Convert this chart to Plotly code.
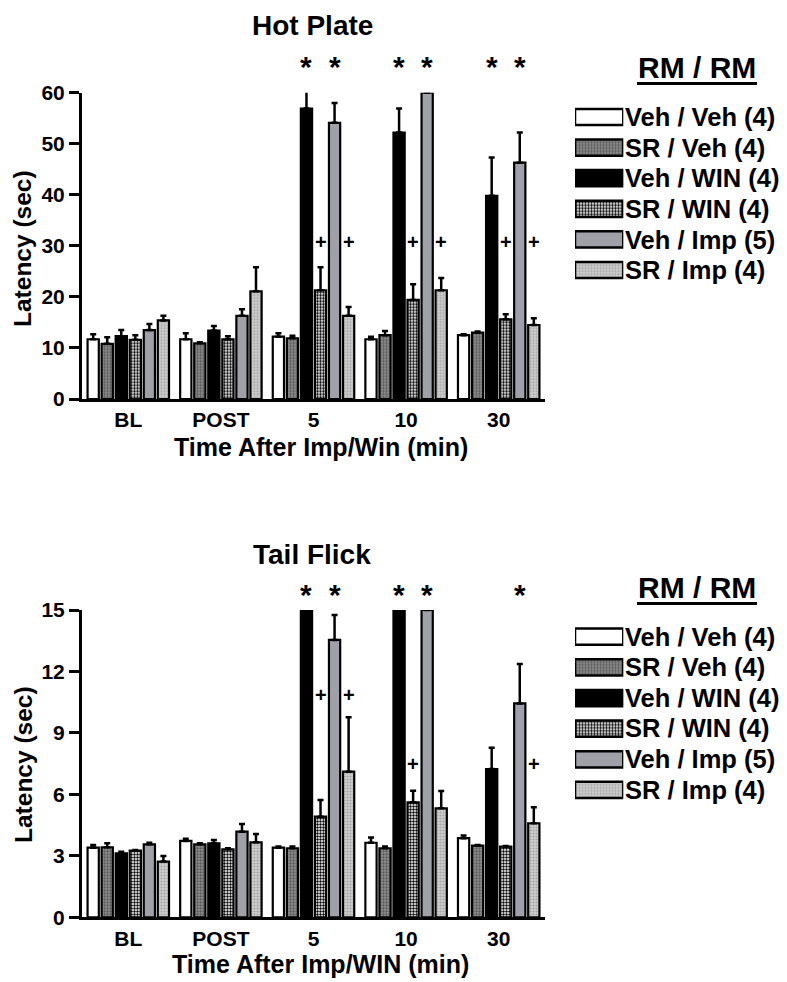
import plotly.graph_objects as go

# ---------------- data ----------------
groups = ['BL', 'POST', '5', '10', '30']
series = ['Veh / Veh (4)', 'SR / Veh (4)', 'Veh / WIN (4)', 'SR / WIN (4)', 'Veh / Imp (5)', 'SR / Imp (4)']

# Hot plate (sec)
hp_veh_veh = [11.7, 11.7, 12.2, 11.7, 12.5]
hp_sr_veh = [10.8, 10.9, 11.9, 12.5, 13.0]
hp_veh_win = [12.3, 13.4, 56.9, 52.2, 39.8]
hp_sr_win = [11.6, 11.7, 21.3, 19.4, 15.6]
hp_veh_imp = [13.5, 16.3, 54.1, 60.0, 46.3]
hp_sr_imp = [15.4, 21.1, 16.3, 21.3, 14.5]
hp_err_veh_veh = [1.0, 1.2, 0.7, 0.5, 0.2]
hp_err_sr_veh = [1.3, 0.2, 0.5, 0.8, 0.2]
hp_err_veh_win = [1.2, 0.9, 3.5, 4.7, 7.5]
hp_err_sr_win = [0.9, 0.6, 4.5, 3.1, 1.0]
hp_err_veh_imp = [1.2, 1.3, 3.9, 0.0, 5.9]
hp_err_sr_imp = [0.9, 4.7, 1.7, 2.4, 1.3]

# Tail flick (sec)
tf_veh_veh = [3.40, 3.73, 3.40, 3.64, 3.86]
tf_sr_veh = [3.42, 3.56, 3.37, 3.37, 3.50]
tf_veh_win = [3.12, 3.61, 15.0, 15.0, 7.24]
tf_sr_win = [3.25, 3.32, 4.91, 5.61, 3.45]
tf_veh_imp = [3.56, 4.18, 13.54, 15.0, 10.44]
tf_sr_imp = [2.72, 3.66, 7.11, 5.32, 4.59]
tf_err_veh_veh = [0.13, 0.11, 0.05, 0.25, 0.13]
tf_err_sr_veh = [0.19, 0.05, 0.08, 0.08, 0.03]
tf_err_veh_win = [0.08, 0.16, 0.0, 0.0, 1.04]
tf_err_sr_win = [0.04, 0.05, 0.82, 0.57, 0.03]
tf_err_veh_imp = [0.08, 0.38, 1.22, 0.0, 1.92]
tf_err_sr_imp = [0.27, 0.41, 2.65, 0.85, 0.78]

# significance marks: (group index, series index, y value)
hp_stars = [(2, 2, 65.6), (2, 4, 65.6), (3, 2, 65.6), (3, 4, 65.6), (4, 2, 65.6), (4, 4, 65.6)]
hp_plus = [(2, 3, 30.7), (2, 5, 30.7), (3, 3, 30.7), (3, 5, 30.7), (4, 3, 30.7), (4, 5, 30.7)]
tf_stars = [(2, 2, 15.9), (2, 4, 15.9), (3, 2, 15.9), (3, 4, 15.9), (4, 4, 15.9)]
tf_plus = [(2, 3, 10.87), (2, 5, 10.87), (3, 3, 7.48), (4, 5, 7.48)]

hp_ticks = [0, 10, 20, 30, 40, 50, 60]
tf_ticks = [0, 3, 6, 9, 12, 15]

# ---------------- styles ----------------
OX, OY = 8, 8            # page body margin
W, H = 779, 974          # figure size inside the 787x982 window
FONT = 'Liberation Sans, Arial, sans-serif'
fills = ['#ffffff', '#8e8e8e', '#000000', '#ffffff', '#a0a0a8', '#d0d0d0']
pat_shapes = ['', '.', '', '.', '', '.']
pat_fg = ['#ffffff', '#5a5a5a', '#000000', '#000000', '#a0a0a8', '#a4a4a4']
pat_solid = [0.3, 0.45, 0.3, 0.5, 0.3, 0.4]
BARGAP = 0.09
SLOT = (1 - BARGAP) / 6


def px(x):
    return (x - OX) / W


def py(y):
    return 1 - (y - OY) / H


def font(size):
    return dict(family=FONT, size=size, color='black', weight='bold')


def pattern(i):
    return dict(shape=pat_shapes[i], bgcolor=fills[i], fgcolor=pat_fg[i],
                size=3, solidity=pat_solid[i], fillmode='replace')


fig = go.Figure()

hp_vals = [hp_veh_veh, hp_sr_veh, hp_veh_win, hp_sr_win, hp_veh_imp, hp_sr_imp]
hp_errs = [hp_err_veh_veh, hp_err_sr_veh, hp_err_veh_win, hp_err_sr_win, hp_err_veh_imp, hp_err_sr_imp]
tf_vals = [tf_veh_veh, tf_sr_veh, tf_veh_win, tf_sr_win, tf_veh_imp, tf_sr_imp]
tf_errs = [tf_err_veh_veh, tf_err_sr_veh, tf_err_veh_win, tf_err_sr_win, tf_err_veh_imp, tf_err_sr_imp]

xpos = list(range(len(groups)))

for vals, errs, xa, ya in [(hp_vals, hp_errs, 'x', 'y'), (tf_vals, tf_errs, 'x2', 'y2')]:
    for i in range(6):
        fig.add_trace(go.Bar(
            x=xpos, y=vals[i], name=series[i], xaxis=xa, yaxis=ya,
            showlegend=False, cliponaxis=False,
            marker=dict(color=fills[i], line=dict(color='black', width=2.2), pattern=pattern(i)),
            error_y=dict(type='data', symmetric=False, array=errs[i],
                         arrayminus=[0] * len(groups), color='black', thickness=2.5, width=3),
        ))

# legend swatches (one horizontal bar per series, drawn on hidden axes)
for xa, ya in [('x3', 'y3'), ('x4', 'y4')]:
    for i in range(6):
        fig.add_trace(go.Bar(
            x=[1], y=[i], orientation='h', xaxis=xa, yaxis=ya, offsetgroup='lg',
            width=0.53, showlegend=False, cliponaxis=False, hoverinfo='skip',
            marker=dict(color=fills[i], line=dict(color='black', width=2.5), pattern=pattern(i)),
        ))

xaxis_common = dict(range=[-0.5, 4.5], tickvals=xpos, ticktext=groups, showgrid=False,
                    zeroline=False, showline=True, linecolor='black', linewidth=3,
                    ticks='', automargin=False,
                    tickfont=font(21), fixedrange=True)
yaxis_common = dict(showgrid=False, zeroline=False, showline=True, linecolor='black', linewidth=3,
                    ticks='outside', ticklen=10, tickwidth=3, tickcolor='black', automargin=False,
                    tickfont=font(21), fixedrange=True)
hidden = dict(visible=False, fixedrange=True, automargin=False)

HP_DOM = [py(399), py(92.7)]
TF_DOM = [py(917.3), py(610)]

fig.update_layout(
    template='none',
    width=W, height=H, margin=dict(l=0, r=0, t=0, b=0, autoexpand=False),
    paper_bgcolor='white', plot_bgcolor='white',
    barmode='group', bargap=BARGAP, bargroupgap=0.2,
    xaxis=dict(xaxis_common, domain=[px(82), px(545)], anchor='y'),
    yaxis=dict(yaxis_common, domain=HP_DOM, range=[0, 60], tickvals=hp_ticks, anchor='x'),
    xaxis2=dict(xaxis_common, domain=[px(82), px(545)], anchor='y2'),
    yaxis2=dict(yaxis_common, domain=TF_DOM, range=[0, 15], tickvals=tf_ticks, anchor='x2'),
    xaxis3=dict(hidden, domain=[px(575), px(623.3)], range=[0, 1], anchor='y3'),
    yaxis3=dict(hidden, domain=[py(285.3), py(101.7)], range=[5.5, -0.5], anchor='x3'),
    xaxis4=dict(hidden, domain=[px(575), px(623.3)], range=[0, 1], anchor='y4'),
    yaxis4=dict(hidden, domain=[py(805.3), py(621.4)], range=[5.5, -0.5], anchor='x4'),
)

ann = []
# titles
ann.append(dict(text='Hot Plate', x=px(312), y=py(25), xref='paper', yref='paper',
                xanchor='center', yanchor='middle', showarrow=False, font=font(28)))
ann.append(dict(text='Tail Flick', x=px(312), y=py(554), xref='paper', yref='paper',
                xanchor='center', yanchor='middle', showarrow=False, font=font(28)))
# axis titles
for yc in [249, 765]:
    ann.append(dict(text='Latency (sec)', x=px(23), y=py(yc), xref='paper', yref='paper',
                    xanchor='center', yanchor='middle', textangle=-90, showarrow=False, font=font(24.5)))
ann.append(dict(text='Time After Imp/Win (min)', x=px(321), y=py(447), xref='paper', yref='paper',
                xanchor='center', yanchor='middle', showarrow=False, font=font(25)))
ann.append(dict(text='Time After Imp/WIN (min)', x=px(320), y=py(964), xref='paper', yref='paper',
                xanchor='center', yanchor='middle', showarrow=False, font=font(25)))

# significance marks (placed in paper space: they sit above the axis range)
for marks, sym, size, xr, dom, ymax, drop in [
        (hp_stars, '*', 30, 'x', HP_DOM, 60, 2.5), (hp_plus, '+', 20, 'x', HP_DOM, 60, 0),
        (tf_stars, '*', 30, 'x2', TF_DOM, 15, 2.5), (tf_plus, '+', 20, 'x2', TF_DOM, 15, 0)]:
    for g, s, v in marks:
        yp = dom[0] + (dom[1] - dom[0]) * v / ymax - drop / H
        ann.append(dict(text=sym, x=g + (s - 2.5) * SLOT, y=yp, xref=xr, yref='paper',
                        xanchor='center', yanchor='middle', showarrow=False, font=font(size)))

# legend headers and labels
shapes = []
for hy, rows in [(67, [117, 147.7, 178.3, 209, 239.7, 270]), (587, [636.7, 667.3, 697.7, 728.3, 759, 790])]:
    ann.append(dict(text='RM / RM', x=px(697), y=py(hy), xref='paper', yref='paper',
                    xanchor='center', yanchor='middle', showarrow=False, font=font(30)))
    shapes.append(dict(type='line', xref='paper', yref='paper', x0=px(637), x1=px(757),
                       y0=py(hy + 16.5), y1=py(hy + 16.5), line=dict(color='black', width=3)))
    for label, ry in zip(series, rows):
        ann.append(dict(text=label, x=px(623), y=py(ry), xref='paper', yref='paper',
                        xanchor='left', yanchor='middle', showarrow=False, font=font(25.5)))

fig.update_layout(annotations=ann, shapes=shapes)
fig.write_html('out.html')
